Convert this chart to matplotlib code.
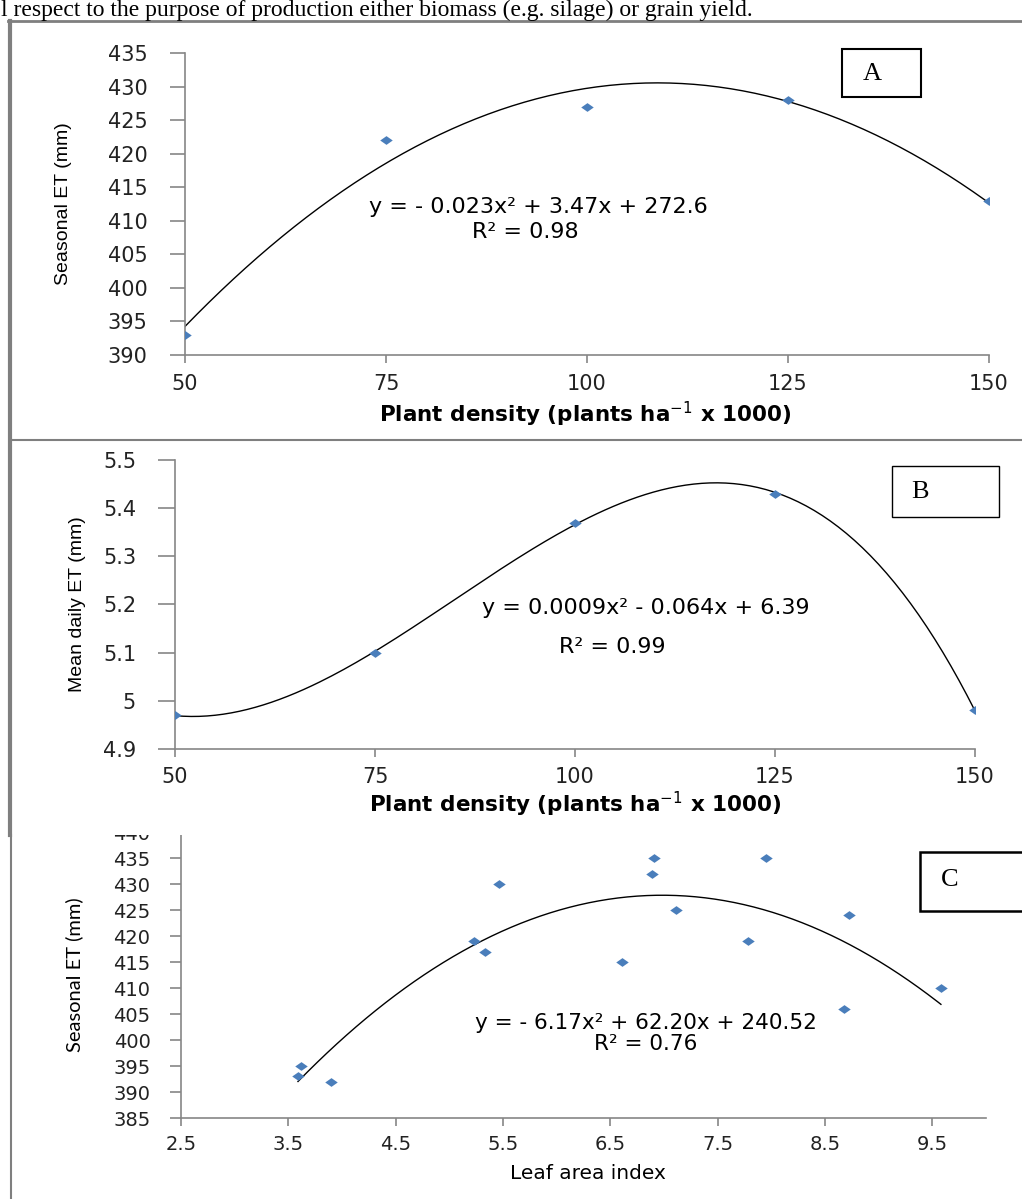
import numpy as np
import matplotlib
matplotlib.use("Agg")
import matplotlib.pyplot as plt
from matplotlib import font_manager
from matplotlib.lines import Line2D
from matplotlib.patches import Rectangle

W, H = 1022, 1199

# data
density = [50, 75, 100, 125, 150]
seasonal_et = [393, 422, 427, 428, 413]
daily_et = [4.97, 5.10, 5.37, 5.43, 4.98]
lai = [3.59, 3.62, 3.90, 5.23, 5.33, 5.46, 6.61, 6.89, 6.91, 7.11, 7.78, 7.95, 8.68, 8.72, 9.58]
lai_et = [393, 395, 392, 419, 417, 430, 415, 432, 435, 425, 419, 435, 406, 424, 410]

eq_a = "y = - 0.023x² + 3.47x + 272.6"
r2_a = "R² = 0.98"
eq_b = "y = 0.0009x² - 0.064x + 6.39"
r2_b = "R² = 0.99"
eq_c = "y = - 6.17x² + 62.20x + 240.52"
r2_c = "R² = 0.76"
xlabel_density = r"Plant density (plants ha$^{-1}$ x 1000)"

BLUE = "#4A7EBB"
GRAY = "#868686"
diamond = [(-1, 0), (0, -0.7), (1, 0), (0, 0.7), (-1, 0)]


def pick(cands):
    names = {f.name for f in font_manager.fontManager.ttflist}
    for c in cands:
        if c in names:
            return c
    return "DejaVu Sans"


narrow = pick(["Liberation Sans Narrow", "DejaVu Sans Condensed", "Liberation Sans"])
serif = pick(["Liberation Serif", "DejaVu Serif"])
soft = pick(["Lato", "Liberation Sans"])

plt.rcParams["font.family"] = ["DejaVu Sans"]
plt.rcParams["mathtext.fontset"] = "dejavusans"

fig = plt.figure(figsize=(W / 100, H / 100), dpi=100)


def px_axes(x0, y0, x1, y1, z):
    return fig.add_axes([x0 / W, 1 - y1 / H, (x1 - x0) / W, (y1 - y0) / H], zorder=z)


def style(ax, tsize, xpad, ypad, ylen):
    for s in ["top", "right"]:
        ax.spines[s].set_visible(False)
    for s in ["left", "bottom"]:
        ax.spines[s].set_color(GRAY)
        ax.spines[s].set_linewidth(1.2)
    ax.tick_params(axis="x", direction="out", length=6, width=1.2, color=GRAY,
                   labelsize=tsize, pad=xpad, labelcolor="#222222")
    ax.tick_params(axis="y", direction="out", length=ylen, width=1.2, color=GRAY,
                   labelsize=tsize, pad=ypad, labelcolor="#222222")
    ax.patch.set_alpha(0)


def fit_line(ax, x, y, deg):
    coef = np.polyfit(x, y, deg)
    xs = np.linspace(min(x), max(x), 200)
    ax.plot(xs, np.polyval(coef, xs), color="black", lw=1.0, zorder=2)
    ax.plot(x, y, linestyle="none", marker=diamond, markersize=9,
            color=BLUE, markeredgewidth=0, zorder=3)


def box(x0, y0, x1, y1, letter, lw, tx, ty):
    fig.add_artist(Rectangle((x0 / W, 1 - y1 / H), (x1 - x0) / W, (y1 - y0) / H,
                             transform=fig.transFigure, facecolor="white",
                             edgecolor="black", lw=lw, zorder=6))
    fig.text(tx / W, 1 - ty / H, letter, family=serif, fontsize=19,
             ha="center", va="center", zorder=7)


# panel C (drawn first, lower part of the page)
axc = px_axes(181, 832, 986, 1118, 1)
fit_line(axc, lai, lai_et, 2)
axc.set_xlim(2.5, 10)
axc.set_ylim(385, 440)
axc.set_xticks(np.arange(2.5, 10, 1.0))
axc.set_yticks(np.arange(385, 441, 5))
style(axc, 14, 6, 14, 8)
axc.set_xlabel("Leaf area index", fontsize=14.5)
axc.xaxis.set_label_coords(0.506, -0.16)
axc.set_ylabel("Seasonal ET (mm)", fontsize=14.5, family=soft)
axc.yaxis.set_label_coords(-0.122, 0.5)
axc.text(6.83, 403.3, eq_c, fontsize=15.5, ha="center", va="center")
axc.text(6.83, 399.3, r2_c, fontsize=15.5, ha="center", va="center")

# white page area of panel B hides the top of panel C
fig.add_artist(Rectangle((12 / W, 1 - 835 / H), (W - 12) / W, (835 - 440) / H,
                         transform=fig.transFigure, facecolor="white",
                         edgecolor="none", zorder=2))

# panel A
axa = px_axes(185, 53, 989, 355, 3)
fit_line(axa, density, seasonal_et, 2)
axa.set_xlim(50, 150)
axa.set_ylim(390, 435)
axa.set_xticks(density)
axa.set_yticks(np.arange(390, 436, 5))
style(axa, 15, 8, 16, 11)
axa.set_xlabel(xlabel_density, fontsize=15.5, fontweight="bold")
axa.xaxis.set_label_coords(0.4975, -0.15)
axa.set_ylabel("Seasonal ET (mm)", family=narrow, fontsize=14)
axa.yaxis.set_label_coords(-0.1405, 0.5)
axa.text(94, 412.0, eq_a, fontsize=16, ha="center", va="center")
axa.text(92.3, 408.3, r2_a, fontsize=16, ha="center", va="center")

# panel B
axb = px_axes(175, 460, 975, 749, 3)
fit_line(axb, density, daily_et, 3)
axb.set_xlim(50, 150)
axb.set_ylim(4.9, 5.5)
axb.set_xticks(density)
axb.set_yticks([4.9, 5.0, 5.1, 5.2, 5.3, 5.4, 5.5])
axb.set_yticklabels(["4.9", "5", "5.1", "5.2", "5.3", "5.4", "5.5"])
style(axb, 15, 7, 16, 12)
axb.set_xlabel(xlabel_density, fontsize=15.5, fontweight="bold")
axb.xaxis.set_label_coords(0.5, -0.14)
axb.set_ylabel("Mean daily ET (mm)", family=narrow, fontsize=14)
axb.yaxis.set_label_coords(-0.111, 0.5)
axb.text(108.8, 5.193, eq_b, fontsize=16, ha="center", va="center")
axb.text(104.7, 5.112, r2_b, fontsize=16, ha="center", va="center")

# page frames
FRAME = "#7f7f7f"
fig.add_artist(Line2D([8 / W, 1], [1 - 21 / H, 1 - 21 / H], color=FRAME, lw=2, zorder=5))
fig.add_artist(Line2D([10 / W, 1], [1 - 440 / H, 1 - 440 / H], color=FRAME, lw=1.5, zorder=5))
fig.add_artist(Line2D([10 / W, 10 / W], [1 - 21 / H, 1 - 835 / H], color=FRAME, lw=3, zorder=5))
fig.add_artist(Line2D([11 / W, 11 / W], [1 - 835 / H, 0], color=FRAME, lw=1.5, zorder=5))

# letter boxes
box(842, 49, 921, 97, "A", 1.5, 872, 74)
box(892, 466, 999, 517, "B", 1.0, 920, 492)
box(920, 852, 1030, 911, "C", 1.8, 950, 880)

# caption line above the figure
fig.text(1 / W, 1 - 16 / H,
         "l respect to the purpose of production either biomass (e.g. silage) or grain yield.",
         family=serif, fontsize=17, ha="left", va="baseline", zorder=7)

fig.savefig("out.png", dpi=100, facecolor="white")
